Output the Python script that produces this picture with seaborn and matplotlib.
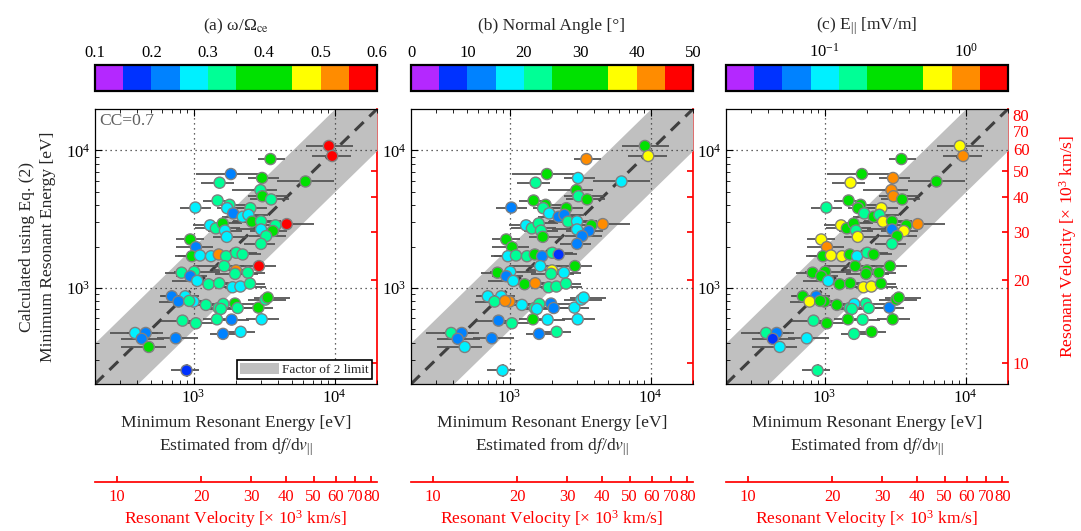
import numpy as np
import pandas as pd
import matplotlib
matplotlib.use("Agg")
import matplotlib.pyplot as plt
import matplotlib.colors as mcolors
import matplotlib.cm as cm
from matplotlib.patches import Patch
from matplotlib.ticker import NullLocator, FixedLocator, FixedFormatter
import seaborn as sns

# ---------------------------------------------------------------
# data
# ---------------------------------------------------------------
# minimum resonant energy estimated from df/dv|| [eV]
e_est = [9120, 9620, 3510, 1840, 3060, 1530, 6220, 2980, 3080, 3550,
         1480, 1800, 1030, 1730, 2530, 1910, 2230, 2450, 2600, 1310,
         1440, 1610, 1670, 1720, 3010, 3010, 3810, 3650, 3270, 4580,
         947, 1040, 3010, 973, 1110, 1330, 1510, 1700, 2010, 2230,
         1650, 2910, 822, 1010, 2000, 1970, 2430, 947, 1062, 1278,
         1521, 1892, 2148, 2513, 701, 873, 782, 1000, 931, 1224,
         1506, 1626, 1967, 2056, 1563, 2884, 3228, 3357, 835, 1039,
         1465, 1862, 3042, 385, 458, 429, 748, 481, 1618, 2158, 892]
# minimum resonant energy calculated using Eq. (2) [eV]
e_calc = [10770, 9100, 8650, 6730, 6300, 5820, 5940, 5140, 4640, 4400,
          4320, 4020, 3840, 3800, 3800, 3480, 3290, 3400, 3030, 2850,
          2710, 2940, 2610, 2350, 3050, 2660, 2850, 2590, 2380, 2910,
          2250, 1980, 2090, 1700, 1720, 1700, 1750, 1700, 1800, 1750,
          1440, 1440, 1290, 1310, 1340, 1265, 1290, 1216, 1124, 1063,
          1081, 1011, 1023, 1075, 869, 869, 795, 795, 804, 752,
          714, 764, 769, 714, 703, 719, 822, 851, 578, 553,
          591, 588, 591, 470, 470, 426, 430, 372, 463, 479, 251]
# horizontal error bars, in decades below / above
xerr_lo = [0.16, 0.14, 0.09, 0.25, 0.10, 0.13, 0.20, 0.20, 0.10, 0.15,
           0.10, 0.08, 0.11, 0.07, 0.10, 0.06, 0.15, 0.08, 0.14, 0.12,
           0.15, 0.12, 0.12, 0.10, 0.20, 0.18, 0.10, 0.16, 0.12, 0.05,
           0.10, 0.14, 0.12, 0.10, 0.18, 0.16, 0.12, 0.20, 0.14, 0.10,
           0.22, 0.14, 0.12, 0.14, 0.16, 0.14, 0.08, 0.10, 0.18, 0.12,
           0.14, 0.12, 0.12, 0.10, 0.08, 0.18, 0.14, 0.10, 0.14, 0.12,
           0.11, 0.14, 0.12, 0.12, 0.10, 0.14, 0.12, 0.10, 0.15, 0.12,
           0.10, 0.12, 0.11, 0.18, 0.13, 0.15, 0.13, 0.20, 0.09, 0.10, 0.11]
xerr_hi = [0.17, 0.13, 0.10, 0.21, 0.12, 0.10, 0.20, 0.12, 0.18, 0.13,
           0.10, 0.12, 0.11, 0.14, 0.12, 0.08, 0.12, 0.14, 0.16, 0.10,
           0.17, 0.14, 0.12, 0.14, 0.14, 0.10, 0.12, 0.10, 0.14, 0.19,
           0.10, 0.12, 0.10, 0.12, 0.14, 0.15, 0.16, 0.12, 0.15, 0.13,
           0.14, 0.12, 0.12, 0.18, 0.12, 0.16, 0.12, 0.12, 0.16, 0.14,
           0.12, 0.14, 0.18, 0.11, 0.14, 0.10, 0.12, 0.12, 0.10, 0.12,
           0.12, 0.12, 0.16, 0.14, 0.12, 0.10, 0.15, 0.16, 0.12, 0.13,
           0.14, 0.12, 0.12, 0.16, 0.12, 0.16, 0.16, 0.12, 0.10, 0.10, 0.09]
# vertical error bars, in decades
yerr = [0.00, 0.00, 0.00, 0.00, 0.00, 0.00, 0.02, 0.00, 0.00, 0.00,
        0.02, 0.00, 0.00, 0.00, 0.00, 0.00, 0.00, 0.00, 0.00, 0.00,
        0.00, 0.00, 0.00, 0.00, 0.00, 0.00, 0.00, 0.00, 0.00, 0.03,
        0.00, 0.00, 0.00, 0.00, 0.00, 0.00, 0.00, 0.00, 0.00, 0.00,
        0.00, 0.00, 0.00, 0.00, 0.00, 0.00, 0.00, 0.00, 0.00, 0.00,
        0.00, 0.00, 0.00, 0.00, 0.00, 0.00, 0.00, 0.00, 0.00, 0.00,
        0.00, 0.00, 0.00, 0.00, 0.00, 0.00, 0.00, 0.00, 0.00, 0.00,
        0.00, 0.00, 0.00, 0.00, 0.00, 0.00, 0.00, 0.02, 0.00, 0.03, 0.045]
# colour quantities
wave_freq = [0.57, 0.56, 0.40, 0.23, 0.41, 0.33, 0.39, 0.32, 0.38, 0.33,
             0.32, 0.33, 0.28, 0.27, 0.32, 0.22, 0.28, 0.27, 0.41, 0.28,
             0.33, 0.37, 0.29, 0.27, 0.31, 0.28, 0.33, 0.39, 0.34, 0.58,
             0.37, 0.22, 0.31, 0.43, 0.26, 0.27, 0.53, 0.32, 0.33, 0.34,
             0.31, 0.56, 0.32, 0.33, 0.52, 0.31, 0.34, 0.23, 0.28, 0.32,
             0.33, 0.27, 0.28, 0.33, 0.22, 0.28, 0.21, 0.29, 0.34, 0.31,
             0.32, 0.33, 0.42, 0.32, 0.31, 0.38, 0.34, 0.39, 0.32, 0.31,
             0.32, 0.23, 0.29, 0.27, 0.22, 0.24, 0.23, 0.37, 0.21, 0.28, 0.17]
normal_angle = [28, 38, 43, 31, 18, 23, 18, 29, 22, 32,
                28, 30, 13, 23, 33, 17, 12, 14, 22, 18,
                24, 22, 23, 31, 17, 18, 27, 13, 12, 42,
                31, 34, 12, 17, 23, 21, 33, 13, 24, 7,
                19, 29, 28, 17, 38, 22, 16, 12, 18, 32,
                44, 24, 22, 23, 18, 19, 23, 42, 44, 19,
                22, 24, 13, 12, 17, 18, 19, 16, 13, 23,
                31, 18, 17, 22, 13, 12, 14, 16, 13, 21, 18]
e_par = [0.63, 1.0, 0.30, 0.35, 0.95, 0.60, 0.28, 1.05, 0.90, 0.33,
         0.38, 0.26, 0.15, 0.30, 0.58, 0.17, 0.42, 0.14, 0.55, 0.66,
         0.36, 0.27, 0.17, 0.60, 0.24, 0.065, 0.30, 0.68, 0.33, 1.1,
         0.55, 0.90, 0.15, 0.22, 0.62, 0.70, 0.32, 0.09, 0.16, 0.40,
         0.27, 0.31, 0.43, 0.36, 0.28, 0.24, 0.34, 0.29, 0.11, 0.38,
         0.26, 0.57, 0.65, 0.31, 0.45, 0.060, 0.62, 0.35, 0.25, 0.37,
         0.17, 0.11, 0.15, 0.18, 0.14, 0.058, 0.33, 0.42, 0.16, 0.27,
         0.34, 0.15, 0.29, 0.17, 0.066, 0.042, 0.10, 0.095, 0.14, 0.37, 0.15]

axis_lims = np.array([200.0, 2.0e4])
vel_ticks = [10, 20, 30, 40, 50, 60, 70, 80]
cc_text = "CC=0.7"

bin_colors = ["#b428ff", "#0032ff", "#0082ff", "#00f0ff", "#00ff96",
              "#00e100", "#00e100", "#ffff00", "#ff8c00", "#ff0000"]

df = pd.DataFrame({"e_est": e_est, "e_calc": e_calc,
                   "xlo": xerr_lo, "xhi": xerr_hi, "yerr": yerr,
                   "freq": wave_freq, "angle": normal_angle, "epar": e_par})

# electron energy <-> velocity (10^3 km/s)
QE = 1.602e-19
ME = 9.109e-31


def e2v(e):
    e = np.clip(np.asarray(e, dtype=float), 1e-9, None)
    return np.sqrt(2 * e * QE / ME) / 1e6


def v2e(v):
    v = np.asarray(v, dtype=float)
    return 0.5 * ME * (v * 1e6) ** 2 / QE


sns.set_theme(style="ticks")
plt.rcParams["font.family"] = ["Liberation Serif", "DejaVu Serif"]
plt.rcParams["mathtext.fontset"] = "stix"
plt.rcParams["mathtext.default"] = "regular"
plt.rcParams["font.size"] = 12

LABEL_FS = 12.6
TICK_FS = 12

cmap = mcolors.ListedColormap(bin_colors)

panels = [
    ("freq", mcolors.Normalize(0.1, 0.6), "(a) ω/Ω$_{\\rm ce}$",
     [0.1, 0.2, 0.3, 0.4, 0.5, 0.6], ["0.1", "0.2", "0.3", "0.4", "0.5", "0.6"]),
    ("angle", mcolors.Normalize(0, 50), "(b) Normal Angle [°]",
     [0, 10, 20, 30, 40, 50], ["0", "10", "20", "30", "40", "50"]),
    ("epar", mcolors.LogNorm(10 ** -1.7, 10 ** 0.3), "(c) E$_{||}$ [mV/m]",
     [0.1, 1.0], ["$10^{-1}$", "$10^{0}$"]),
]

fig = plt.figure(figsize=(10.81, 5.31), dpi=100)
lefts = [95 / 1081, 411 / 1081, 726 / 1081]
width = 282 / 1081
ax_bottom, ax_height = 147 / 531, 275 / 531
cb_bottom, cb_height = 440 / 531, 26 / 531

for i, (col, norm, title, cticks, clabels) in enumerate(panels):
    ax = fig.add_axes([lefts[i], ax_bottom, width, ax_height])
    ax.set_xscale("log")
    ax.set_yscale("log")
    ax.set_xlim(axis_lims)
    ax.set_ylim(axis_lims)

    # factor-of-2 band and 1:1 line
    ax.fill_between(axis_lims, axis_lims / 2, axis_lims * 2,
                    color="#c0c0c0", lw=0, zorder=0.2)
    ax.plot(axis_lims, axis_lims, ls=(0, (4, 2.6)), color="#404040",
            lw=2.2, zorder=0.6)

    x = df["e_est"].values
    y = df["e_calc"].values
    xl = x - x * 10 ** (-df["xlo"].values)
    xh = x * 10 ** df["xhi"].values - x
    yl = y - y * 10 ** (-df["yerr"].values)
    yh = y * 10 ** df["yerr"].values - y
    ax.errorbar(x, y, xerr=[xl, xh], yerr=[yl, yh], fmt="none",
                ecolor="#555555", elinewidth=1.3, capsize=0, zorder=2)

    sns.scatterplot(data=df, x="e_est", y="e_calc", hue=col, palette=cmap,
                    hue_norm=norm, s=64, edgecolor="#808080", linewidth=1.0,
                    legend=False, ax=ax, zorder=3)

    ax.set_axisbelow(True)
    ax.grid(True, which="major", ls=(0, (1, 3)), color="#333333", lw=0.9)
    ax.grid(False, which="minor")
    ax.tick_params(which="both", direction="in", top=True, right=False,
                   colors="black", labelsize=TICK_FS)
    ax.tick_params(which="major", length=5, width=0.8)
    ax.tick_params(which="minor", length=3, width=0.6)
    for s in ["left", "top", "bottom"]:
        ax.spines[s].set_color("black")
        ax.spines[s].set_linewidth(0.9)
    ax.spines["right"].set_visible(False)
    ax.set_xlabel("Minimum Resonant Energy [eV]\n"
                  r"Estimated from d$\mathit{f}$/d$\mathit{v}_{||}$",
                  fontsize=LABEL_FS, labelpad=6, linespacing=1.4)
    if i == 0:
        ax.set_ylabel("Calculated using Eq. (2)\nMinimum Resonant Energy [eV]",
                      fontsize=LABEL_FS, labelpad=7, linespacing=1.4)
        ax.text(0.015, 0.985, cc_text, transform=ax.transAxes, ha="left",
                va="top", color="#606060", fontsize=LABEL_FS)
        leg = ax.legend(handles=[Patch(facecolor="#c0c0c0", edgecolor="none",
                                       label="Factor of 2 limit")],
                        loc="lower right", fancybox=False, framealpha=1,
                        edgecolor="black", fontsize=9.5, handlelength=2.9,
                        handleheight=0.9, handletextpad=0.3,
                        borderaxespad=0.35, borderpad=0.25)
        leg.get_frame().set_linewidth(1.2)
    else:
        ax.set_ylabel("")

    # right red velocity axis
    sec_y = ax.secondary_yaxis("right", functions=(e2v, v2e))
    sec_y.yaxis.set_major_locator(FixedLocator(vel_ticks))
    sec_y.yaxis.set_major_formatter(FixedFormatter([str(v) for v in vel_ticks]))
    sec_y.yaxis.set_minor_locator(NullLocator())
    sec_y.spines["right"].set_color("red")
    sec_y.tick_params(which="both", direction="in", colors="red",
                      length=4, labelsize=TICK_FS)
    if i == 2:
        sec_y.set_ylabel(r"Resonant Velocity [$\times$ 10$^3$ km/s]",
                         color="red", fontsize=LABEL_FS, labelpad=20)
    else:
        sec_y.tick_params(labelright=False)

    # bottom red velocity axis
    sec_x = ax.secondary_xaxis(-0.356, functions=(e2v, v2e))
    sec_x.xaxis.set_major_locator(FixedLocator(vel_ticks))
    sec_x.xaxis.set_major_formatter(FixedFormatter([str(v) for v in vel_ticks]))
    sec_x.xaxis.set_minor_locator(NullLocator())
    sec_x.spines["bottom"].set_color("red")
    sec_x.tick_params(which="both", direction="in", colors="red",
                      length=4, labelsize=TICK_FS, pad=5)
    sec_x.set_xlabel(r"Resonant Velocity [$\times$ 10$^3$ km/s]",
                     color="red", fontsize=LABEL_FS, labelpad=2)

    # colourbar on top
    cax = fig.add_axes([lefts[i], cb_bottom, width, cb_height])
    sm = cm.ScalarMappable(norm=norm, cmap=cmap)
    cb = fig.colorbar(sm, cax=cax, orientation="horizontal")
    cb.outline.set_linewidth(1.6)
    cb.outline.set_edgecolor("black")
    cax.xaxis.set_ticks_position("top")
    cax.xaxis.set_label_position("top")
    cax.xaxis.set_minor_locator(NullLocator())
    cb.set_ticks(cticks)
    cb.set_ticklabels(clabels)
    cax.tick_params(which="both", direction="in", length=4, width=0.8,
                    colors="black", labelsize=TICK_FS, pad=3)
    fig.text(lefts[i] + width / 2, 1 - 26 / 531, title, ha="center",
             va="center", fontsize=LABEL_FS)

fig.savefig("out.png", dpi=100)
